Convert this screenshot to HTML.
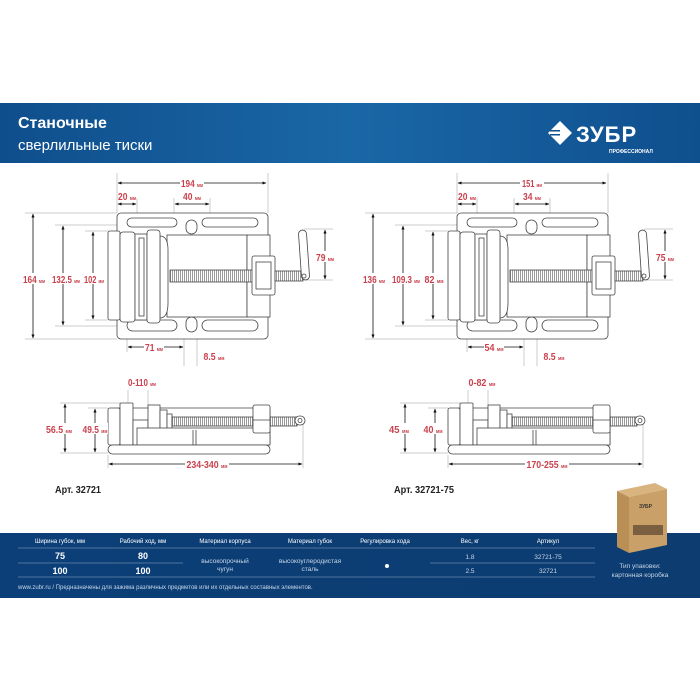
<!DOCTYPE html>
<html><head><meta charset="utf-8"><style>
html,body{margin:0;padding:0;background:#fff;}
svg{display:block;font-family:"Liberation Sans Narrow","Liberation Sans",sans-serif;}
.r{fill:#c9414d;font-weight:bold;}
.u{fill:#c9414d;font-size:5px;}
</style></head><body>
<svg width="700" height="700" viewBox="0 0 700 700" xmlns="http://www.w3.org/2000/svg">
<defs>
<linearGradient id="hg" x1="0" x2="1" y1="0" y2="0"><stop offset="0" stop-color="#0f4e8c"/><stop offset="0.5" stop-color="#1a67a6"/><stop offset="1" stop-color="#0f4f8e"/></linearGradient>
<linearGradient id="bg" x1="0" x2="1"><stop offset="0" stop-color="#0c3f78"/><stop offset="1" stop-color="#0c3c70"/></linearGradient>
<marker id="a" viewBox="0 0 10 10" refX="9" refY="5" markerWidth="5" markerHeight="5" orient="auto-start-reverse"><path d="M0,1 L10,5 L0,9z" fill="#111"/></marker>
<pattern id="th" width="2" height="4" patternUnits="userSpaceOnUse"><rect width="2" height="4" fill="#fff"/><rect width="1" height="4" fill="#999"/></pattern>
<g id="top" fill="#fff" stroke="#444" stroke-width="0.8">
 <rect x="117" y="213" width="151" height="126" rx="4"/>
 <rect x="127" y="218" width="50" height="9" rx="4.5"/><rect x="202" y="218" width="56" height="9" rx="4.5"/>
 <rect x="186" y="220" width="11" height="14" rx="5.5"/>
 <rect x="127" y="320" width="50" height="11" rx="5.5"/><rect x="202" y="320" width="56" height="11" rx="5.5"/>
 <rect x="186" y="317" width="11" height="15" rx="5.5"/>
 <rect x="167" y="235" width="80" height="82"/>
 <rect x="247" y="235" width="23" height="82"/>
 <rect x="108" y="231" width="12" height="89" rx="2"/>
 <rect x="120" y="232" width="15" height="90" rx="3"/>
 <rect x="135" y="234" width="12" height="86"/>
 <rect x="139" y="238" width="5" height="78"/>
 <path d="M160,236 Q168,236 168,250 L168,303 Q168,318 160,318z"/>
 <rect x="147" y="230" width="13" height="93" rx="3"/>
 <rect x="170" y="270" width="88" height="12" fill="url(#th)"/>
 <rect x="252" y="256" width="23" height="39" rx="2"/>
 <rect x="256" y="262" width="15" height="27"/>
 <rect x="275" y="271" width="28" height="10" fill="url(#th)"/>
 <rect x="300" y="230" width="8" height="50" rx="4" transform="rotate(-4 304 255)"/>
 <circle cx="304" cy="276" r="2"/>
</g>
<g id="side" fill="#fff" stroke="#444" stroke-width="0.8">
 <rect x="117" y="408" width="153" height="37" rx="2"/>
 <rect x="108" y="408" width="12" height="37" rx="2"/>
 <rect x="120" y="403" width="13" height="42" rx="1"/>
 <rect x="133" y="420" width="15" height="25"/>
 <rect x="148" y="405" width="12" height="27"/>
 <rect x="160" y="410" width="7" height="22"/>
 <rect x="167" y="414" width="5" height="18"/>
 <rect x="137" y="428" width="133" height="17"/>
 <line x1="193" y1="430" x2="193" y2="445"/><line x1="196" y1="430" x2="196" y2="445"/>
 <rect x="172" y="417" width="125" height="9" fill="url(#th)"/>
 <rect x="253" y="405" width="17" height="28" rx="2"/>
 <line x1="253" y1="420" x2="270" y2="420"/>
 <rect x="295" y="416" width="10" height="9" rx="4.5"/><circle cx="300" cy="420.5" r="2"/>
 <rect x="108" y="445" width="162" height="9" rx="4.5"/>
</g>
<g id="dims" stroke="#999" stroke-width="0.5" fill="none">
 <line x1="117" y1="173" x2="117" y2="213"/><line x1="268" y1="173" x2="268" y2="213"/>
 <line x1="137" y1="198" x2="137" y2="220"/><line x1="174" y1="198" x2="174" y2="222"/><line x1="210" y1="198" x2="210" y2="222"/>
 <line x1="25" y1="213" x2="117" y2="213"/><line x1="25" y1="339" x2="117" y2="339"/>
 <line x1="55" y1="225" x2="117" y2="225"/><line x1="55" y1="326" x2="127" y2="326"/>
 <line x1="85" y1="231" x2="108" y2="231"/><line x1="85" y1="320" x2="108" y2="320"/>
 <line x1="304" y1="229" x2="333" y2="229"/><line x1="304" y1="280" x2="333" y2="280"/>
 <line x1="127" y1="331" x2="127" y2="352"/><line x1="184" y1="331" x2="184" y2="366"/><line x1="197" y1="331" x2="197" y2="366"/>
 <line x1="60" y1="403" x2="120" y2="403"/><line x1="60" y1="453" x2="108" y2="453"/><line x1="88" y1="408" x2="108" y2="408"/>
 <line x1="128" y1="390" x2="128" y2="405"/><line x1="148" y1="390" x2="148" y2="405"/>
 <line x1="108" y1="455" x2="108" y2="468"/><line x1="303" y1="424" x2="303" y2="468"/>
</g>
<g id="arr" stroke="#111" stroke-width="0.8" marker-start="url(#a)" marker-end="url(#a)">
 <line x1="118" y1="183" x2="266" y2="183"/>
 <line x1="118" y1="204" x2="136" y2="204"/>
 <line x1="175" y1="204" x2="209" y2="204"/>
 <line x1="33" y1="214" x2="33" y2="338"/>
 <line x1="63" y1="226" x2="63" y2="325"/>
 <line x1="93" y1="232" x2="93" y2="319"/>
 <line x1="325" y1="230" x2="325" y2="279"/>
 <line x1="128" y1="347" x2="183" y2="347"/>
 <line x1="65" y1="404" x2="65" y2="452"/>
 <line x1="95" y1="409" x2="95" y2="452"/>
 <line x1="109" y1="464" x2="302" y2="464"/>
</g>
<g stroke="#111" stroke-width="0.8" marker-end="url(#a)">
 <line x1="168" y1="362" x2="183" y2="362"/><line x1="212" y1="362" x2="198" y2="362"/>
 <line x1="118" y1="395" x2="127" y2="395"/><line x1="158" y1="395" x2="149" y2="395"/>
</g>
</defs>

<rect x="0" y="103" width="700" height="60" fill="url(#hg)"/>
<text x="18" y="128" fill="#fff" font-family="Liberation Sans" font-weight="bold" font-size="16">Станочные</text>
<text x="18" y="150" fill="#fff" font-family="Liberation Sans" font-size="15">сверлильные тиски</text>
<g fill="#fff">
 <path d="M548,133 L560,121 L572,133 L560,145z"/>
 <rect x="550" y="130" width="10" height="1.5" fill="#0f4e8c"/><rect x="550" y="134" width="10" height="1.5" fill="#0f4e8c"/>
 <text x="576" y="142" font-family="Liberation Sans" font-weight="bold" font-size="22" letter-spacing="1">ЗУБР</text>
 <text x="609" y="153" font-family="Liberation Sans" font-weight="bold" font-size="5">ПРОФЕССИОНАЛ</text>
</g>

<use href="#dims"/><use href="#top"/><use href="#side"/><use href="#arr"/>
<g transform="translate(340,0)"><use href="#dims"/><use href="#top"/><use href="#side"/><use href="#arr"/></g>

<g font-size="10" text-anchor="middle">
 <rect x="180" y="177" width="24" height="10" fill="#fff"/><text x="192" y="187" class="r" textLength="22" lengthAdjust="spacingAndGlyphs">194 <tspan class="u">мм</tspan></text>
 <text x="127" y="200" class="r" textLength="18" lengthAdjust="spacingAndGlyphs">20 <tspan class="u">мм</tspan></text>
 <text x="192" y="200" class="r" textLength="18" lengthAdjust="spacingAndGlyphs">40 <tspan class="u">мм</tspan></text>
 <rect x="22" y="273" width="24" height="11" fill="#fff"/><text x="34" y="283" class="r" textLength="22" lengthAdjust="spacingAndGlyphs">164 <tspan class="u">мм</tspan></text>
 <rect x="51" y="273" width="30" height="11" fill="#fff"/><text x="66" y="283" class="r" textLength="28" lengthAdjust="spacingAndGlyphs">132.5 <tspan class="u">мм</tspan></text>
 <rect x="83" y="273" width="22" height="11" fill="#fff"/><text x="94" y="283" class="r" textLength="20" lengthAdjust="spacingAndGlyphs">102 <tspan class="u">мм</tspan></text>
 <rect x="315" y="251" width="20" height="11" fill="#fff"/><text x="325" y="261" class="r" textLength="18" lengthAdjust="spacingAndGlyphs">79 <tspan class="u">мм</tspan></text>
 <rect x="144" y="342" width="20" height="10" fill="#fff"/><text x="154" y="351" class="r" textLength="18" lengthAdjust="spacingAndGlyphs">71 <tspan class="u">мм</tspan></text>
 <text x="214" y="360" class="r" textLength="21" lengthAdjust="spacingAndGlyphs">8.5 <tspan class="u">мм</tspan></text>
 <text x="142" y="386" class="r" textLength="28" lengthAdjust="spacingAndGlyphs">0-110 <tspan class="u">мм</tspan></text>
 <rect x="45" y="423" width="28" height="11" fill="#fff"/><text x="59" y="433" class="r" textLength="26" lengthAdjust="spacingAndGlyphs">56.5 <tspan class="u">мм</tspan></text>
 <rect x="81" y="423" width="27" height="11" fill="#fff"/><text x="95" y="433" class="r" textLength="25" lengthAdjust="spacingAndGlyphs">49.5 <tspan class="u">мм</tspan></text>
 <rect x="185" y="459" width="44" height="11" fill="#fff"/><text x="207" y="468" class="r" textLength="41" lengthAdjust="spacingAndGlyphs">234-340 <tspan class="u">мм</tspan></text>

 <rect x="520" y="177" width="24" height="10" fill="#fff"/><text x="532" y="187" class="r" textLength="20" lengthAdjust="spacingAndGlyphs">151 <tspan class="u">мм</tspan></text>
 <text x="467" y="200" class="r" textLength="18" lengthAdjust="spacingAndGlyphs">20 <tspan class="u">мм</tspan></text>
 <text x="532" y="200" class="r" textLength="18" lengthAdjust="spacingAndGlyphs">34 <tspan class="u">мм</tspan></text>
 <rect x="362" y="273" width="24" height="11" fill="#fff"/><text x="374" y="283" class="r" textLength="22" lengthAdjust="spacingAndGlyphs">136 <tspan class="u">мм</tspan></text>
 <rect x="391" y="273" width="30" height="11" fill="#fff"/><text x="406" y="283" class="r" textLength="28" lengthAdjust="spacingAndGlyphs">109.3 <tspan class="u">мм</tspan></text>
 <rect x="423" y="273" width="22" height="11" fill="#fff"/><text x="434" y="283" class="r" textLength="19" lengthAdjust="spacingAndGlyphs">82 <tspan class="u">мм</tspan></text>
 <rect x="655" y="251" width="20" height="11" fill="#fff"/><text x="665" y="261" class="r" textLength="18" lengthAdjust="spacingAndGlyphs">75 <tspan class="u">мм</tspan></text>
 <rect x="484" y="342" width="20" height="10" fill="#fff"/><text x="494" y="351" class="r" textLength="19" lengthAdjust="spacingAndGlyphs">54 <tspan class="u">мм</tspan></text>
 <text x="554" y="360" class="r" textLength="21" lengthAdjust="spacingAndGlyphs">8.5 <tspan class="u">мм</tspan></text>
 <text x="482" y="386" class="r" textLength="27" lengthAdjust="spacingAndGlyphs">0-82 <tspan class="u">мм</tspan></text>
 <rect x="386" y="423" width="26" height="11" fill="#fff"/><text x="399" y="433" class="r" textLength="20" lengthAdjust="spacingAndGlyphs">45 <tspan class="u">мм</tspan></text>
 <rect x="421" y="423" width="24" height="11" fill="#fff"/><text x="433" y="433" class="r" textLength="19" lengthAdjust="spacingAndGlyphs">40 <tspan class="u">мм</tspan></text>
 <rect x="525" y="459" width="44" height="11" fill="#fff"/><text x="547" y="468" class="r" textLength="41" lengthAdjust="spacingAndGlyphs">170-255 <tspan class="u">мм</tspan></text>
</g>
<text x="55" y="493" font-size="10" font-weight="bold" fill="#222" textLength="46" lengthAdjust="spacingAndGlyphs">Арт. 32721</text>
<text x="394" y="493" font-size="10" font-weight="bold" fill="#222" textLength="60" lengthAdjust="spacingAndGlyphs">Арт. 32721-75</text>

<rect x="0" y="533" width="700" height="65" fill="url(#bg)"/>
<g transform="translate(617,483)">
 <path d="M0,8 L38,0 L50,6 L12,14z" fill="#d9b47f"/>
 <path d="M0,8 L12,14 L12,70 L0,64z" fill="#b98f55"/>
 <path d="M12,14 L50,6 L50,62 L12,70z" fill="#c9a067"/>
 <text x="22" y="25" font-size="5" font-weight="bold" fill="#333">ЗУБР</text>
 <rect x="16" y="42" width="30" height="10" fill="#7a6040"/>
</g>
<g fill="#fff" font-size="6" text-anchor="middle" font-family="Liberation Sans Narrow, Liberation Sans, sans-serif">
 <text x="60" y="543">Ширина губок, мм</text><text x="143" y="543">Рабочий ход, мм</text>
 <text x="225" y="543">Материал корпуса</text><text x="310" y="543">Материал губок</text>
 <text x="385" y="543">Регулировка хода</text><text x="470" y="543">Вес, кг</text><text x="548" y="543">Артикул</text>
 <g font-size="9" font-weight="bold"><text x="60" y="559">75</text><text x="143" y="559">80</text><text x="60" y="574">100</text><text x="143" y="574">100</text></g>
 <g font-size="6.5" fill="#c8d6e8"><text x="225" y="563">высокопрочный</text><text x="225" y="571">чугун</text>
 <text x="310" y="563">высокоуглеродистая</text><text x="310" y="571">сталь</text>
 <text x="470" y="559">1.8</text><text x="548" y="559">32721-75</text><text x="470" y="573">2.5</text><text x="548" y="573">32721</text>
 <text x="640" y="568">Тип упаковки:</text><text x="640" y="577">картонная коробка</text></g>
 <circle cx="387" cy="566" r="2"/>
</g>
<g stroke="#8fa9c8" stroke-width="0.6">
 <line x1="18" y1="548" x2="595" y2="548"/><line x1="18" y1="563" x2="183" y2="563"/><line x1="430" y1="563" x2="595" y2="563"/>
 <line x1="18" y1="577" x2="595" y2="577"/>
</g>
<text x="18" y="589" font-size="6" fill="#c8d6e8" font-family="Liberation Sans Narrow, Liberation Sans, sans-serif">www.zubr.ru  /  Предназначены для зажима различных предметов или их отдельных составных элементов.</text>
</svg>
</body></html>
